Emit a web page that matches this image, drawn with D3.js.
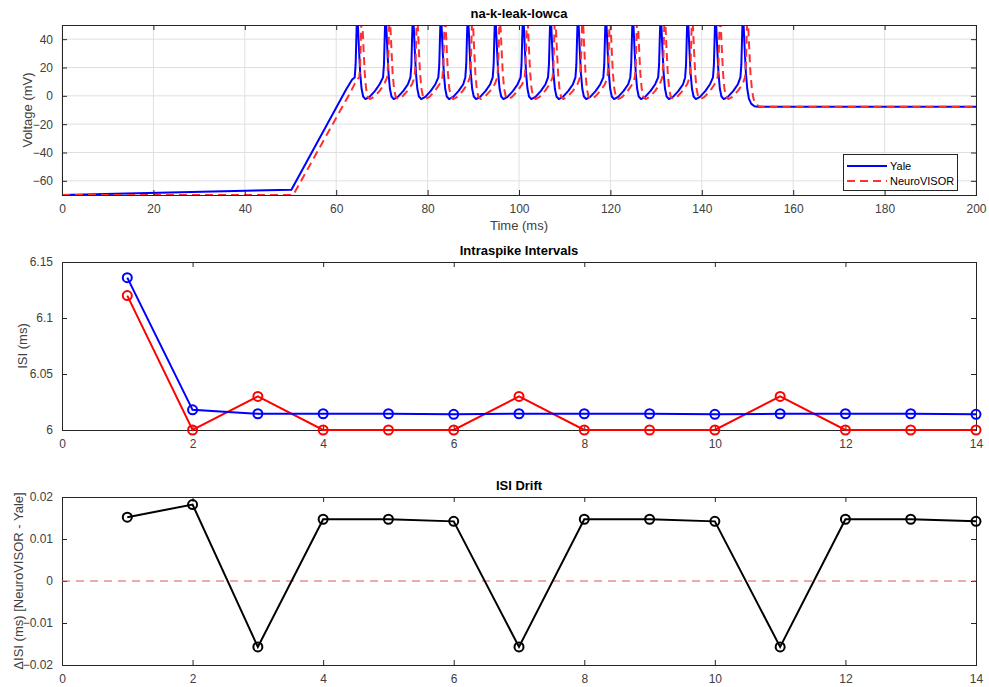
<!DOCTYPE html>
<html>
<head>
<meta charset="utf-8">
<script src="https://cdn.jsdelivr.net/npm/d3@7"></script>
<style>
  body { margin: 0; background: #fff; }
  svg { font-family: "Liberation Sans", Arial, sans-serif; }
  .tick text { fill: #404040; font-size: 12px; }
</style>
</head>
<body>
<svg id="chart" width="989" height="687"></svg>
<script>
// ---- voltage traces ----
const timeTicks = [0, 20, 40, 60, 80, 100, 120, 140, 160, 180, 200];
const voltTicks = [-60, -40, -20, 0, 20, 40];

// spike peak times (ms)
const yaleSpikeTimes = [64.5, 70.7, 76.7, 82.8, 88.7, 94.7, 100.8, 106.8, 112.8, 118.9, 124.8, 130.9, 136.8, 142.9, 148.9];
const neuroSpikeTimes = [65.5, 71.6, 77.6, 83.7, 89.7, 95.7, 101.7, 107.8, 113.8, 119.8, 125.8, 131.8, 137.8, 143.9, 149.9];

// pre-firing segments [t, V]
const yaleRamp = [[0, -70], [50.2, -66.3], [62.2, 4.7], [63.5, 11.5]];
const neuroRamp = [[0, -70], [50.6, -70], [63.2, 3], [64.5, 11.5]];

// one spike cycle, offsets from the peak (ms) and voltages (mV)
const cycleOffsets = [-0.45, -0.25, -0.1, 0.05, 0.25, 0.5, 0.75, 1.05, 1.4, 1.9, 2.8, 4.0, 5.0];
const cycleVolts = [13, 22, 40, 56, 50, 32, 16, 5, -0.5, -2.3, -0.7, 3.5, 8.2];
// last spike settling to rest
const lastOffsets = [-0.45, -0.25, -0.1, 0.05, 0.25, 0.5, 0.75, 1.05, 1.4, 1.9, 2.6, 3.5];
const lastVolts = [13, 22, 40, 56, 50, 32, 16, 5, -2, -5.5, -7.3, -7.7];
const restEnd = [200, -7.7];

// ---- spike intervals ----
const spikeIndex = [1, 2, 3, 4, 5, 6, 7, 8, 9, 10, 11, 12, 13, 14];
const yaleISI = [6.136, 6.018, 6.0145, 6.0145, 6.0145, 6.014, 6.0145, 6.0145, 6.0145, 6.014, 6.0145, 6.0145, 6.0145, 6.014];
const neuroISI = [6.12, 6.00, 6.03, 6.00, 6.00, 6.00, 6.03, 6.00, 6.00, 6.00, 6.03, 6.00, 6.00, 6.00];
const isiDrift = [0.0152, 0.0182, -0.0157, 0.0147, 0.0147, 0.0142, -0.0157, 0.0147, 0.0147, 0.0142, -0.0157, 0.0147, 0.0147, 0.0142];
const indexTicks = [0, 2, 4, 6, 8, 10, 12, 14];
const isiTicks = [6, 6.05, 6.1, 6.15];
const driftTicks = [-0.02, -0.01, 0, 0.01, 0.02];

const svg = d3.select('#chart');
const left = 62, right = 976;
const axisColor = '#262626';

function buildTrace(ramp, spikes) {
    const pts = ramp.slice();
    spikes.forEach((tp, i) => {
        const last = i === spikes.length - 1;
        const offs = last ? lastOffsets : cycleOffsets;
        const vs = last ? lastVolts : cycleVolts;
        offs.forEach((o, j) => pts.push([tp + o, vs[j]]));
    });
    pts.push(restEnd);
    return pts;
}

function makePanel(cfg) {
    const x = d3.scaleLinear().domain(cfg.xDomain).range([left, right]);
    const y = d3.scaleLinear().domain(cfg.yDomain).range([cfg.bottom, cfg.top]);
    const g = svg.append('g');
    const id = 'clip' + cfg.top;
    svg.append('clipPath').attr('id', id)
        .append('rect').attr('x', left).attr('y', cfg.top)
        .attr('width', right - left).attr('height', cfg.bottom - cfg.top);

    g.append('rect').attr('x', left).attr('y', cfg.top)
        .attr('width', right - left).attr('height', cfg.bottom - cfg.top)
        .attr('fill', '#fff');

    if (cfg.grid) {
        g.selectAll('.gx').data(cfg.xTicks).enter().append('line')
            .attr('x1', d => x(d)).attr('x2', d => x(d))
            .attr('y1', cfg.top).attr('y2', cfg.bottom)
            .attr('stroke', '#dfdfdf').attr('stroke-width', 1);
        g.selectAll('.gy').data(cfg.yTicks).enter().append('line')
            .attr('x1', left).attr('x2', right)
            .attr('y1', d => y(d)).attr('y2', d => y(d))
            .attr('stroke', '#dfdfdf').attr('stroke-width', 1);
    }

    const plot = g.append('g').attr('clip-path', `url(#${id})`);

    // axes with inward ticks
    const xb = g.append('g').attr('transform', `translate(0,${cfg.bottom})`)
        .call(d3.axisBottom(x).tickValues(cfg.xTicks).tickSizeInner(-5).tickSizeOuter(0).tickPadding(9).tickFormat(d3.format('')));
    const xt = g.append('g').attr('transform', `translate(0,${cfg.top})`)
        .call(d3.axisTop(x).tickValues(cfg.xTicks).tickSizeInner(-5).tickSizeOuter(0).tickFormat(''));
    const yl = g.append('g').attr('transform', `translate(${left},0)`)
        .call(d3.axisLeft(y).tickValues(cfg.yTicks).tickSizeInner(-5).tickSizeOuter(0).tickPadding(9).tickFormat(cfg.yFormat || d3.format('')));
    const yr = g.append('g').attr('transform', `translate(${right},0)`)
        .call(d3.axisRight(y).tickValues(cfg.yTicks).tickSizeInner(-5).tickSizeOuter(0).tickFormat(''));
    [xb, xt, yl, yr].forEach(a => {
        a.select('.domain').remove();
        a.selectAll('.tick line').attr('stroke', axisColor);
        a.selectAll('.tick text').attr('font-family', null).attr('font-size', null);
    });
    g.append('rect').attr('x', left).attr('y', cfg.top)
        .attr('width', right - left).attr('height', cfg.bottom - cfg.top)
        .attr('fill', 'none').attr('stroke', axisColor).attr('stroke-width', 1)
        .attr('shape-rendering', 'crispEdges');

    g.append('text').attr('x', (left + right) / 2).attr('y', cfg.top - 7)
        .attr('text-anchor', 'middle').attr('font-weight', 'bold')
        .attr('font-size', 13).attr('fill', '#000').text(cfg.title);
    g.append('text').attr('transform', `translate(${cfg.yLabelX},${(cfg.top + cfg.bottom) / 2}) rotate(-90)`)
        .attr('text-anchor', 'middle').attr('font-size', 13).attr('fill', '#404040')
        .text(cfg.yLabel);
    if (cfg.xLabel) {
        g.append('text').attr('x', (left + right) / 2).attr('y', cfg.bottom + 35)
            .attr('text-anchor', 'middle').attr('font-size', 13).attr('fill', '#404040')
            .text(cfg.xLabel);
    }
    return { x, y, g, plot };
}

// ---- top panel: voltage ----
const p1 = makePanel({
    xDomain: [0, 200], yDomain: [-70, 50], top: 25, bottom: 195,
    xTicks: timeTicks, yTicks: voltTicks, grid: true,
    title: 'na-k-leak-lowca', yLabel: 'Voltage (mV)', xLabel: 'Time (ms)', yLabelX: 32
});
const vLine = d3.line().x(d => p1.x(d[0])).y(d => p1.y(d[1]));
p1.plot.append('path').datum(buildTrace(yaleRamp, yaleSpikeTimes))
    .attr('d', vLine).attr('fill', 'none').attr('stroke', '#0000ff').attr('stroke-width', 2)
    .attr('stroke-linejoin', 'round');
p1.plot.append('path').datum(buildTrace(neuroRamp, neuroSpikeTimes))
    .attr('d', vLine).attr('fill', 'none').attr('stroke', '#ff3030').attr('stroke-width', 2)
    .attr('stroke-dasharray', '8,5').attr('stroke-linejoin', 'round');

// legend
const lg = p1.g.append('g');
lg.append('rect').attr('x', 843.5).attr('y', 154.5).attr('width', 114).attr('height', 36)
    .attr('fill', '#fff').attr('stroke', axisColor).attr('stroke-width', 1);
lg.append('line').attr('x1', 847).attr('x2', 887).attr('y1', 166).attr('y2', 166)
    .attr('stroke', '#0000ff').attr('stroke-width', 2);
lg.append('line').attr('x1', 847).attr('x2', 887).attr('y1', 181).attr('y2', 181)
    .attr('stroke', '#ff3030').attr('stroke-width', 2).attr('stroke-dasharray', '8,5');
lg.append('text').attr('x', 890).attr('y', 170).attr('font-size', 11).attr('fill', '#000').text('Yale');
lg.append('text').attr('x', 890).attr('y', 185).attr('font-size', 11).attr('fill', '#000').text('NeuroVISOR');

// ---- middle panel: ISI ----
const p2 = makePanel({
    xDomain: [0, 14], yDomain: [6, 6.15], top: 262, bottom: 430,
    xTicks: indexTicks, yTicks: isiTicks,
    title: 'Intraspike Intervals', yLabel: 'ISI (ms)', yLabelX: 27
});
[[neuroISI, '#ff0000'], [yaleISI, '#0000ff']].forEach(([vals, col]) => {
    const pts = spikeIndex.map((k, i) => [k, vals[i]]);
    p2.g.append('path').datum(pts)
        .attr('d', d3.line().x(d => p2.x(d[0])).y(d => p2.y(d[1])))
        .attr('fill', 'none').attr('stroke', col).attr('stroke-width', 2);
    p2.g.selectAll(null).data(pts).enter().append('circle')
        .attr('cx', d => p2.x(d[0])).attr('cy', d => p2.y(d[1])).attr('r', 4.5)
        .attr('fill', 'none').attr('stroke', col).attr('stroke-width', 2);
});

// ---- bottom panel: drift ----
const p3 = makePanel({
    xDomain: [0, 14], yDomain: [-0.02, 0.02], top: 497, bottom: 665,
    xTicks: indexTicks, yTicks: driftTicks, yFormat: d => d3.format('')(+d.toFixed(2)),
    title: 'ISI Drift', yLabel: '\u0394ISI (ms) [NeuroVISOR - Yale]', yLabelX: 23
});
p3.g.append('line').attr('x1', left).attr('x2', right)
    .attr('y1', p3.y(0)).attr('y2', p3.y(0))
    .attr('stroke', '#e05555').attr('stroke-width', 1.2).attr('stroke-dasharray', '8,6');
const dPts = spikeIndex.map((k, i) => [k, isiDrift[i]]);
p3.g.append('path').datum(dPts)
    .attr('d', d3.line().x(d => p3.x(d[0])).y(d => p3.y(d[1])))
    .attr('fill', 'none').attr('stroke', '#000').attr('stroke-width', 2);
p3.g.selectAll(null).data(dPts).enter().append('circle')
    .attr('cx', d => p3.x(d[0])).attr('cy', d => p3.y(d[1])).attr('r', 4.5)
    .attr('fill', 'none').attr('stroke', '#000').attr('stroke-width', 2);
</script>
</body>
</html>
